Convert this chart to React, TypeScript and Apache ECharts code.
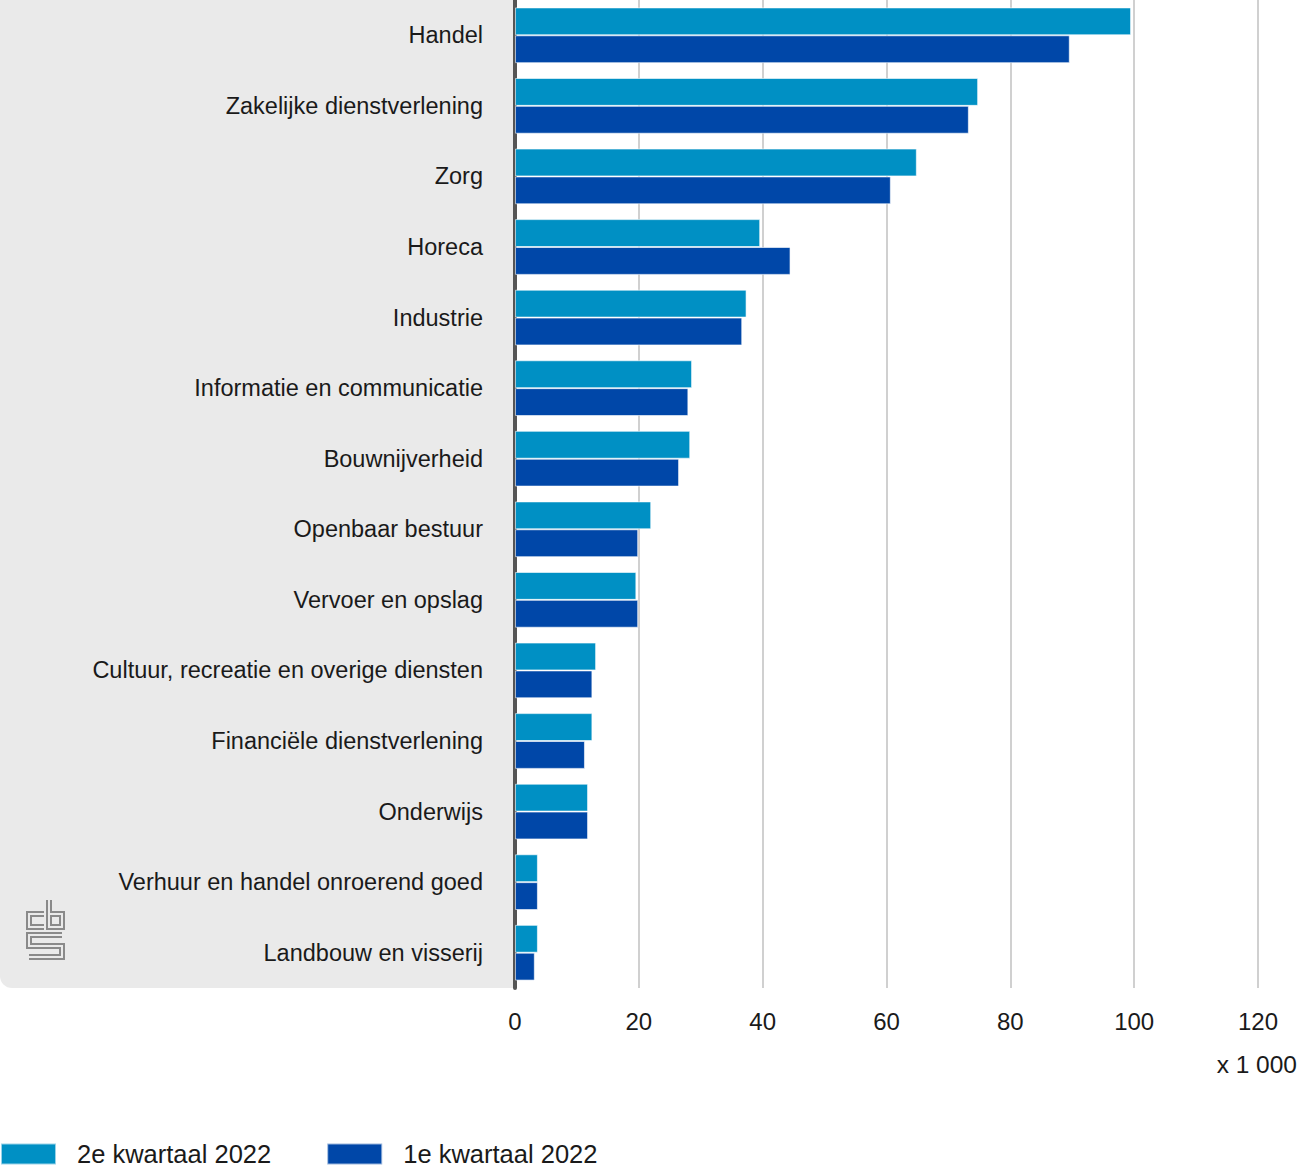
import React, { useEffect, useRef } from "react";
import * as echarts from "echarts";

const categories = [
  "Handel",
  "Zakelijke dienstverlening",
  "Zorg",
  "Horeca",
  "Industrie",
  "Informatie en communicatie",
  "Bouwnijverheid",
  "Openbaar bestuur",
  "Vervoer en opslag",
  "Cultuur, recreatie en overige diensten",
  "Financiële dienstverlening",
  "Onderwijs",
  "Verhuur en handel onroerend goed",
  "Landbouw en visserij",
];
const q2_2022 = [99.5, 74.8, 64.9, 39.6, 37.4, 28.6, 28.3, 22.0, 19.6, 13.1, 12.5, 11.8, 3.7, 3.7];
const q1_2022 = [89.6, 73.3, 60.7, 44.5, 36.7, 28.0, 26.5, 19.9, 19.9, 12.5, 11.3, 11.8, 3.7, 3.2];
const seriesNames = ["2e kwartaal 2022", "1e kwartaal 2022"];
const xTicks = { min: 0, max: 120, interval: 20 };
const unitLabel = "x 1 000";

const FONT = "'Liberation Sans', 'DejaVu Sans', sans-serif";
const TXT = "#1a1a1a";

export default function App() {
  const ref = useRef<HTMLDivElement>(null);
  useEffect(() => {
    document.body.style.margin = "0";
    const chart = echarts.init(ref.current!, null, { renderer: "svg" });
    const logoStroke = (points: number[][]) => [
      { type: "polyline", z: -5, shape: { points }, style: { stroke: "#8a8a8a", lineWidth: 6, fill: null, lineJoin: "miter" } },
      { type: "polyline", z: -4, shape: { points }, style: { stroke: "#eaeaea", lineWidth: 2, fill: null, lineJoin: "miter" } },
    ];
    chart.setOption({
      animation: false,
      textStyle: { fontFamily: FONT },
      grid: { left: 515, right: 41, top: -2, bottom: 181 },
      legend: {
        left: 0,
        top: 1141,
        itemWidth: 55,
        itemHeight: 21,
        itemGap: 55,
        icon: "rect",
        padding: 0,
        textStyle: { fontSize: 25.5, color: TXT, fontFamily: FONT, padding: [0, 0, 0, 16] },
        data: seriesNames,
      },
      xAxis: {
        type: "value",
        min: xTicks.min,
        max: xTicks.max,
        interval: xTicks.interval,
        axisLine: { show: false },
        axisTick: { show: false },
        splitLine: { lineStyle: { color: "#d0d0d0", width: 2 } },
        axisLabel: { fontSize: 24, color: TXT, margin: 21 },
      },
      yAxis: {
        type: "category",
        data: categories,
        inverse: true,
        axisLine: { lineStyle: { color: "#555555", width: 4 } },
        axisTick: { show: false },
        axisLabel: { fontSize: 23.5, color: TXT, margin: 32 },
      },
      graphic: [
        {
          type: "rect",
          z: -10,
          shape: { x: 0, y: 0, width: 515, height: 988, r: [0, 0, 0, 12] },
          style: { fill: "#eaeaea" },
        },
        ...logoStroke([[44, 914], [29, 914], [29, 927], [44, 927]]),
        ...logoStroke([[49, 900], [49, 927], [62, 927], [62, 914], [49, 914]]),
        ...logoStroke([[62, 935], [29, 935], [29, 946], [62, 946], [62, 957], [29, 957]]),
        {
          type: "text",
          right: 2,
          top: 1052,
          style: { text: unitLabel, fontSize: 24.5, fill: TXT, fontFamily: FONT },
        },
      ],
      series: [
        {
          name: seriesNames[0],
          type: "bar",
          data: q2_2022,
          barGap: "0%",
          barCategoryGap: "21%",
          itemStyle: { color: "#0090c4", borderColor: "rgba(255,255,255,0.6)", borderWidth: 1 },
        },
        {
          name: seriesNames[1],
          type: "bar",
          data: q1_2022,
          itemStyle: { color: "#0047a8", borderColor: "rgba(255,255,255,0.6)", borderWidth: 1 },
        },
      ],
    });
    return () => chart.dispose();
  }, []);
  return <div ref={ref} style={{ width: 1299, height: 1169 }} />;
}
